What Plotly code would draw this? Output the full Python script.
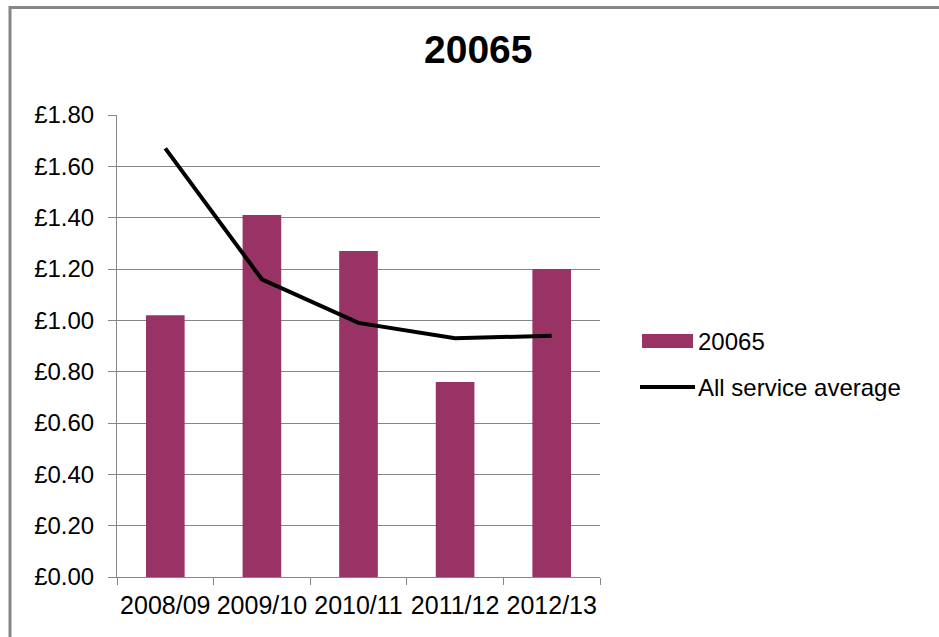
import plotly.graph_objects as go

categories = ["2008/09", "2009/10", "2010/11", "2011/12", "2012/13"]
series_20065 = [1.02, 1.41, 1.27, 0.76, 1.20]
all_service_average = [1.67, 1.16, 0.99, 0.93, 0.94]
title_text = "20065"
bar_name = "20065"
line_name = "All service average"

BAR_COLOR = "#993366"
GRID = "#868686"
FONT = "Liberation Sans, Arial, sans-serif"

# plot-area pixel geometry
W, H = 939, 637
L, R, T, B = 117, 339, 115, 60
PW, PH = W - L - R, H - T - B


def px(x):
    return (x - L) / PW


def py(y):
    return (H - B - y) / PH


fig = go.Figure()
fig.add_trace(go.Bar(x=categories, y=series_20065, name=bar_name,
                     marker=dict(color=BAR_COLOR, line=dict(width=0)),
                     showlegend=False))
fig.add_trace(go.Scatter(x=categories, y=all_service_average, name=line_name,
                         mode="lines", line=dict(color="black", width=4),
                         showlegend=False))

shapes = [
    # outer chart border (partially cropped in the reference)
    dict(type="rect", xref="paper", yref="paper",
         x0=px(10), x1=px(955), y0=py(655), y1=py(7.5),
         line=dict(color=GRID, width=3), fillcolor="rgba(0,0,0,0)", layer="below"),
    # legend swatches
    dict(type="rect", xref="paper", yref="paper",
         x0=px(642), x1=px(693), y0=py(348), y1=py(334),
         line=dict(width=0), fillcolor=BAR_COLOR),
    dict(type="line", xref="paper", yref="paper",
         x0=px(640), x1=px(695), y0=py(387), y1=py(387),
         line=dict(color="black", width=4)),
]

annotations = [
    dict(text="<b>" + title_text + "</b>", xref="paper", yref="paper",
         x=px(478), y=py(50), xanchor="center", yanchor="middle",
         showarrow=False, font=dict(family=FONT, size=39, color="black")),
    dict(text=bar_name, xref="paper", yref="paper",
         x=px(696), y=py(341), xanchor="left", yanchor="middle",
         showarrow=False, font=dict(family=FONT, size=24, color="black")),
    dict(text=line_name, xref="paper", yref="paper",
         x=px(696), y=py(387), xanchor="left", yanchor="middle",
         showarrow=False, font=dict(family=FONT, size=24, color="black")),
]

fig.update_layout(
    width=W, height=H,
    margin=dict(l=L, r=R, t=T, b=B),
    paper_bgcolor="white", plot_bgcolor="white",
    bargap=0.6,
    showlegend=False,
    shapes=shapes,
    annotations=annotations,
    font=dict(family=FONT, color="black"),
)
fig.update_xaxes(
    type="category", showline=True, linecolor=GRID, linewidth=1,
    ticks="outside", tickson="boundaries", ticklen=7, tickcolor=GRID,
    showgrid=False, tickfont=dict(family=FONT, size=25, color="black"),
    tickangle=0, ticklabelstandoff=6,
)
fig.update_yaxes(
    range=[0, 1.8], dtick=0.2, tickprefix="£", tickformat=".2f",
    showline=True, linecolor=GRID, linewidth=1,
    ticks="outside", ticklen=8, tickcolor=GRID,
    showgrid=True, gridcolor=GRID, gridwidth=1, zeroline=False,
    tickfont=dict(family=FONT, size=24, color="black"),
    ticklabelstandoff=9,
)

fig.write_html("out.html",
               config={"displayModeBar": False},
               post_script="document.body.style.margin='0px';document.body.style.overflow='hidden';")
